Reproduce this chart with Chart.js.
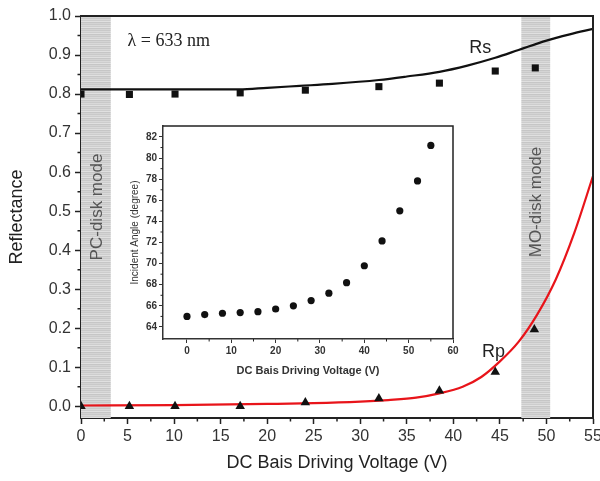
<!DOCTYPE html>
<html><head><meta charset="utf-8">
<script src="https://cdn.jsdelivr.net/npm/chart.js@4.4.1/dist/chart.umd.min.js"></script>
<style>
html,body{margin:0;padding:0;background:#fff;}
#wrap{position:relative;width:600px;height:481px;overflow:hidden;}
#main{position:absolute;left:0;top:0;}
#inset{position:absolute;left:110px;top:118px;}
</style></head><body>
<div id="wrap"><canvas id="main" width="600" height="481"></canvas><canvas id="inset" width="355" height="270"></canvas></div>
<script>
// ---- data ----
const rsVoltage   = [0, 5.2, 10.1, 17.1, 24.1, 32, 38.5, 44.5, 48.8];
const rsMeasured  = [0.800, 0.799, 0.800, 0.803, 0.810, 0.819, 0.828, 0.859, 0.867];
const rpVoltage   = [0, 5.2, 10.1, 17.1, 24.1, 32, 38.5, 44.5, 48.7];
const rpMeasured  = [0.000, 0.000, 0.000, 0.000, 0.010, 0.020, 0.040, 0.088, 0.197];
const rsFitVoltage = [0, 5, 10, 15, 17, 20, 23.5, 27, 32, 35, 38.5, 41.5, 44.5, 47, 50, 52.5, 55];
const rsFit        = [0.812, 0.812, 0.812, 0.812, 0.812, 0.816, 0.821, 0.826, 0.836, 0.845, 0.857, 0.873, 0.893, 0.913, 0.937, 0.953, 0.967];
const rpFitVoltage = [0, 10, 20, 25, 30, 33, 36, 38.5, 41, 43, 45, 47, 49, 51, 53, 55];
const rpFit        = [0.002, 0.003, 0.006, 0.008, 0.012, 0.016, 0.022, 0.033, 0.050, 0.075, 0.115, 0.165, 0.235, 0.325, 0.445, 0.590];
const insetVoltage = [0, 4, 8, 12, 16, 20, 24, 28, 32, 36, 40, 44, 48, 52, 55];
const insetAngle   = [65.0, 65.17, 65.3, 65.36, 65.45, 65.7, 66.0, 66.5, 67.2, 68.2, 69.8, 72.15, 75.0, 77.84, 81.2];
const mainXTicks  = [0, 5, 10, 15, 20, 25, 30, 35, 40, 45, 50, 55];
const mainYTicks  = [0.0, 0.1, 0.2, 0.3, 0.4, 0.5, 0.6, 0.7, 0.8, 0.9, 1.0];
const insetXTicks = [0, 10, 20, 30, 40, 50, 60];
const insetYTicks = [64, 66, 68, 70, 72, 74, 76, 78, 80, 82];
const bandNames = ['PC-disk mode', 'MO-disk mode'];
const bandFrom  = [0, 47.3];
const bandTo    = [3.2, 50.4];

const FF = "'Liberation Sans', Arial, sans-serif";
const xy = (xs, ys) => xs.map((x, i) => ({x: x, y: ys[i]}));

// striped grey pattern for the mode bands
const pc = document.createElement('canvas'); pc.width = 4; pc.height = 6;
const pctx = pc.getContext('2d');
['#c9c9c9','#d9d9d9','#cdcdcd','#e0e0e0','#c6c6c6','#d4d4d4'].forEach((c, i) => { pctx.fillStyle = c; pctx.fillRect(0, i, 4, 1); });

function midpoints(arr) { const m = []; for (let i = 0; i < arr.length - 1; i++) m.push((arr[i] + arr[i + 1]) / 2); return m; }

const decor = {
  id: 'decor',
  beforeDatasetsDraw(chart, args, o) {
    const ctx = chart.ctx, a = chart.chartArea, xs = chart.scales.x;
    if (o.bands) {
      ctx.save();
      const pat = ctx.createPattern(pc, 'repeat');
      for (let i = 0; i < bandNames.length; i++) {
        const l = xs.getPixelForValue(bandFrom[i]), r = xs.getPixelForValue(bandTo[i]);
        ctx.fillStyle = pat; ctx.fillRect(l, a.top, r - l, a.bottom - a.top);
        ctx.save();
        ctx.translate((l + r) / 2 + 1, o.bandTextY[i]);
        ctx.rotate(-Math.PI / 2);
        ctx.fillStyle = '#555'; ctx.font = '17px ' + FF; ctx.textAlign = 'center'; ctx.textBaseline = 'middle';
        ctx.fillText(bandNames[i], 0, 0);
        ctx.restore();
      }
      ctx.restore();
    }
  },
  afterDraw(chart, args, o) {
    const ctx = chart.ctx, a = chart.chartArea, xs = chart.scales.x, ys = chart.scales.y;
    ctx.save();
    // frame (top / right)
    ctx.strokeStyle = '#222'; ctx.lineWidth = o.frameWidth;
    ctx.beginPath();
    ctx.moveTo(a.left, a.top); ctx.lineTo(a.right, a.top); ctx.lineTo(a.right, a.bottom);
    ctx.stroke();
    // minor ticks
    ctx.lineWidth = o.minorWidth;
    ctx.beginPath();
    midpoints(o.xMajor).forEach(v => { const p = xs.getPixelForValue(v); ctx.moveTo(p, a.bottom); ctx.lineTo(p, a.bottom + o.minorLen); });
    midpoints(o.yMajor).forEach(v => { const p = ys.getPixelForValue(v); ctx.moveTo(a.left, p); ctx.lineTo(a.left - o.minorLen, p); });
    ctx.stroke();
    // text notes
    (o.notes || []).forEach(n => {
      ctx.fillStyle = '#222'; ctx.font = n.font; ctx.textAlign = n.align; ctx.textBaseline = 'middle';
      ctx.fillText(n.text, xs.getPixelForValue(n.x), ys.getPixelForValue(n.y));
    });
    ctx.restore();
  }
};

new Chart(document.getElementById('main'), {
  type: 'scatter',
  data: { datasets: [
    { label: 'Rs fit', data: xy(rsFitVoltage, rsFit), showLine: true, borderColor: '#111', borderWidth: 2.2, pointRadius: 0, cubicInterpolationMode: 'monotone', order: 3 },
    { label: 'Rp fit', data: xy(rpFitVoltage, rpFit), showLine: true, borderColor: '#e8141a', borderWidth: 2.2, pointRadius: 0, cubicInterpolationMode: 'monotone', order: 2 },
    { label: 'Rs', data: xy(rsVoltage, rsMeasured), pointStyle: 'rect', pointRadius: 5, backgroundColor: '#111', borderColor: '#111', borderWidth: 0, order: 1 },
    { label: 'Rp', data: xy(rpVoltage, rpMeasured), pointStyle: 'triangle', pointRadius: 5.5, backgroundColor: '#111', borderColor: '#111', borderWidth: 0, order: 0 }
  ]},
  options: {
    responsive: false, animation: false, devicePixelRatio: 1,
    layout: { padding: { top: 16, right: 7, left: 0, bottom: 0 } },
    plugins: {
      legend: { display: false }, tooltip: { enabled: false },
      decor: {
        bands: true, bandTextY: [207, 202], frameWidth: 2, minorWidth: 1.5, minorLen: 3.5,
        xMajor: mainXTicks, yMajor: mainYTicks,
        notes: [
          { text: 'Rs', x: 42.9, y: 0.918, font: '18px ' + FF, align: 'center' },
          { text: 'Rp', x: 44.3, y: 0.138, font: '18px ' + FF, align: 'center' },
          { text: 'λ = 633 nm', x: 5.0, y: 0.936, font: '18px "Liberation Serif", "Times New Roman", serif', align: 'left' }
        ]
      }
    },
    scales: {
      x: {
        type: 'linear', min: 0, max: 55,
        afterBuildTicks(s) { s.ticks = mainXTicks.map(v => ({ value: v })); },
        afterFit(s) { s.height = 63; s.paddingRight = 0; s.paddingLeft = 0; },
        ticks: { font: { family: FF, size: 16 }, color: '#333', padding: 3, maxRotation: 0, autoSkip: false },
        grid: { drawOnChartArea: false, drawTicks: true, tickLength: 6, tickWidth: 1.5, tickColor: '#222' },
        border: { display: true, width: 2, color: '#222' },
        title: { display: true, text: 'DC Bais Driving Voltage (V)', font: { family: FF, size: 18 }, color: '#222', padding: { top: 0, bottom: 7 } }
      },
      y: {
        type: 'linear', min: -0.03, max: 1.0,
        afterBuildTicks(s) { s.ticks = mainYTicks.map(v => ({ value: v })); },
        afterFit(s) { s.width = 81; },
        ticks: { font: { family: FF, size: 16 }, color: '#333', padding: 4, autoSkip: false, callback: v => Number(v).toFixed(1) },
        grid: { drawOnChartArea: false, drawTicks: true, tickLength: 6, tickWidth: 1.5, tickColor: '#222' },
        border: { display: true, width: 2, color: '#222' },
        title: { display: true, text: 'Reflectance', font: { family: FF, size: 18 }, color: '#222', padding: { top: 6, bottom: 0 } }
      }
    }
  },
  plugins: [decor]
});

new Chart(document.getElementById('inset'), {
  type: 'scatter',
  data: { datasets: [
    { label: 'Incident angle', data: xy(insetVoltage, insetAngle), pointStyle: 'circle', pointRadius: 3.6, backgroundColor: '#111', borderColor: '#111', borderWidth: 0 }
  ]},
  options: {
    responsive: false, animation: false, devicePixelRatio: 1,
    layout: { padding: { top: 8, right: 12, left: 0, bottom: 0 } },
    plugins: {
      legend: { display: false }, tooltip: { enabled: false },
      decor: { bands: false, frameWidth: 1.5, minorWidth: 1, minorLen: 2.5, xMajor: insetXTicks, yMajor: insetYTicks, notes: [] }
    },
    scales: {
      x: {
        type: 'linear', min: -5.41, max: 60,
        afterBuildTicks(s) { s.ticks = insetXTicks.map(v => ({ value: v })); },
        afterFit(s) { s.height = 49; },
        ticks: { font: { family: FF, size: 10, weight: 'bold' }, color: '#333', padding: 2, maxRotation: 0, autoSkip: false },
        grid: { drawOnChartArea: false, drawTicks: true, tickLength: 4, tickWidth: 1, tickColor: '#333' },
        border: { display: true, width: 1.5, color: '#333' },
        title: { display: true, text: 'DC Bais Driving Voltage (V)', font: { family: FF, size: 11, weight: 'bold' }, color: '#333', padding: { top: 0, bottom: 10 } }
      },
      y: {
        type: 'linear', min: 62.86, max: 83.04,
        afterBuildTicks(s) { s.ticks = insetYTicks.map(v => ({ value: v })); },
        afterFit(s) { s.width = 53; },
        ticks: { font: { family: FF, size: 10, weight: 'bold' }, color: '#333', padding: 2, autoSkip: false },
        grid: { drawOnChartArea: false, drawTicks: true, tickLength: 4, tickWidth: 1, tickColor: '#333' },
        border: { display: true, width: 1.5, color: '#333' },
        title: { display: true, text: 'Incident Angle (degree)', font: { family: FF, size: 10 }, color: '#333', padding: { top: 19, bottom: 0 } }
      }
    }
  },
  plugins: [decor]
});
</script>
</body></html>
